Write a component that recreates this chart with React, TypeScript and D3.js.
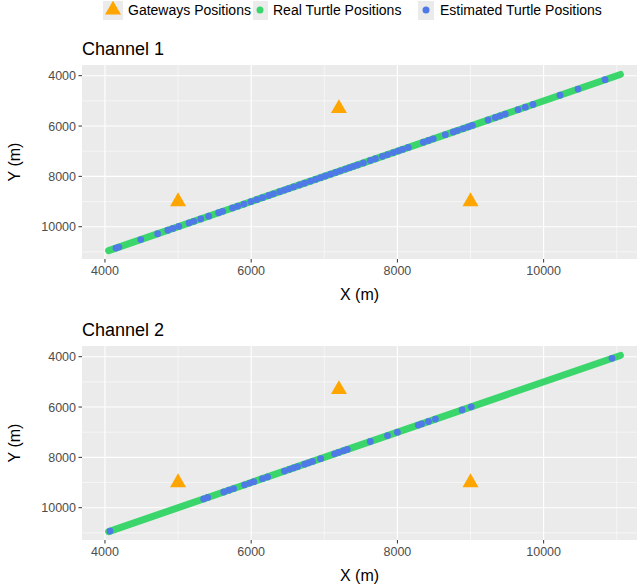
import React from "react";
import * as d3 from "d3";

const gatewaysX = [5000, 7200, 9000];
const gatewaysY = [9000, 5300, 9000];

const realStart = [4050, 10950];
const realEnd = [11050, 3950];

const estX1 = [4150, 4190, 4490, 4720, 4860, 4930, 5010, 5150, 5215, 5310, 5420, 5555, 5610, 5745, 5815, 5900, 5995, 6075, 6155, 6240, 6305, 6390, 6455, 6510, 6580, 6660, 6730, 6810, 6880, 6950, 7015, 7085, 7155, 7220, 7290, 7345, 7400, 7455, 7535, 7630, 7700, 7795, 7865, 7945, 8015, 8070, 8150, 8355, 8425, 8490, 8655, 8765, 8820, 8900, 8970, 9025, 9240, 9340, 9405, 9475, 9650, 9750, 9855, 10225, 10470, 10840];
const estX2 = [4070, 5350, 5405, 5625, 5695, 5760, 5910, 5980, 6035, 6155, 6225, 6455, 6525, 6580, 6635, 6730, 6785, 6840, 6950, 7140, 7195, 7265, 7315, 7630, 7865, 8000, 8285, 8330, 8425, 8520, 8885, 9010, 10935];

const xTicks = [4000, 6000, 8000, 10000];
const yTicks = [4000, 6000, 8000, 10000];
const xMinor = [5000, 7000, 9000, 11000];
const yMinor = [5000, 7000, 9000, 11000];

const panels = [
  { title: "Channel 1", top: 65, est: estX1 },
  { title: "Channel 2", top: 346, est: estX2 },
];

const GREEN = "#3bd66b";
const BLUE = "#4f79e6";
const ORANGE = "#ffa500";
const FONT = "'Liberation Sans', Arial, sans-serif";

const left = 82;
const right = 637;
const panelH = 194;

function tri(cx: number, cy: number, s: number) {
  const h = s * 0.866;
  return `M${cx},${cy - (2 * h) / 3}L${cx + s / 2},${cy + h / 3}L${cx - s / 2},${cy + h / 3}Z`;
}

function Panel({ title, top, est }: { title: string; top: number; est: number[] }) {
  const bottom = top + panelH;
  const x = d3.scaleLinear().domain([3686, 11277]).range([left, right]);
  const y = d3.scaleLinear().domain([3575, 11283]).range([top, bottom]);
  const estY = est.map((v) => realStart[0] + realStart[1] - v);
  return (
    <g>
      <text x={left} y={top - 10} fontSize={18} fontFamily={FONT} fill="#000">{title}</text>
      <rect x={left} y={top} width={right - left} height={panelH} fill="#ebebeb" />
      {xMinor.map((t) => (
        <line key={"xm" + t} x1={x(t)} x2={x(t)} y1={top} y2={bottom} stroke="#fff" strokeWidth={0.55} />
      ))}
      {yMinor.map((t) => (
        <line key={"ym" + t} x1={left} x2={right} y1={y(t)} y2={y(t)} stroke="#fff" strokeWidth={0.55} />
      ))}
      {xTicks.map((t) => (
        <line key={"xg" + t} x1={x(t)} x2={x(t)} y1={top} y2={bottom} stroke="#fff" strokeWidth={1.1} />
      ))}
      {yTicks.map((t) => (
        <line key={"yg" + t} x1={left} x2={right} y1={y(t)} y2={y(t)} stroke="#fff" strokeWidth={1.1} />
      ))}
      <line
        x1={x(realStart[0])} y1={y(realStart[1])} x2={x(realEnd[0])} y2={y(realEnd[1])}
        stroke={GREEN} strokeWidth={7} strokeLinecap="round"
      />
      {est.map((v, i) => (
        <circle key={i} cx={x(v)} cy={y(estY[i])} r={3.4} fill={BLUE} />
      ))}
      {gatewaysX.map((gx, i) => (
        <path key={"g" + i} d={tri(x(gx), y(gatewaysY[i]), 16)} fill={ORANGE} />
      ))}
      {xTicks.map((t) => (
        <g key={"xt" + t}>
          <line x1={x(t)} x2={x(t)} y1={bottom} y2={bottom + 3.5} stroke="#333" strokeWidth={1} />
          <text x={x(t)} y={bottom + 16} textAnchor="middle" fontSize={12.5} fontFamily={FONT} fill="#4d4d4d">{t}</text>
        </g>
      ))}
      {yTicks.map((t) => (
        <g key={"yt" + t}>
          <line x1={left - 3.5} x2={left} y1={y(t)} y2={y(t)} stroke="#333" strokeWidth={1} />
          <text x={left - 6} y={y(t) + 4.5} textAnchor="end" fontSize={12.5} fontFamily={FONT} fill="#4d4d4d">{t}</text>
        </g>
      ))}
      <text x={(left + right) / 2} y={bottom + 41} textAnchor="middle" fontSize={16} fontFamily={FONT} fill="#000">X (m)</text>
      <text
        transform={`translate(20,${(top + bottom) / 2}) rotate(-90)`}
        textAnchor="middle" fontSize={16} fontFamily={FONT} fill="#000"
      >Y (m)</text>
    </g>
  );
}

export default function App() {
  return (
    <svg width={640} height={588} style={{ position: "absolute", left: 0, top: 0, background: "#fff" }}>
      <rect width={640} height={588} fill="#fff" />
      <g>
        <rect x={103} y={1} width={20} height={19} fill="#ebebeb" />
        <path d={tri(113, 10, 16)} fill={ORANGE} />
        <text x={128} y={15} fontSize={14} fontFamily={FONT} fill="#000">Gateways Positions</text>
        <rect x={253} y={1} width={15} height={19} fill="#ebebeb" />
        <circle cx={260} cy={10} r={3.5} fill={GREEN} />
        <text x={273} y={15} fontSize={14} fontFamily={FONT} fill="#000">Real Turtle Positions</text>
        <rect x={418} y={1} width={16} height={19} fill="#ebebeb" />
        <circle cx={426} cy={10} r={3.5} fill={BLUE} />
        <text x={440} y={15} fontSize={14} fontFamily={FONT} fill="#000">Estimated Turtle Positions</text>
      </g>
      {panels.map((p) => (
        <Panel key={p.title} title={p.title} top={p.top} est={p.est} />
      ))}
    </svg>
  );
}
